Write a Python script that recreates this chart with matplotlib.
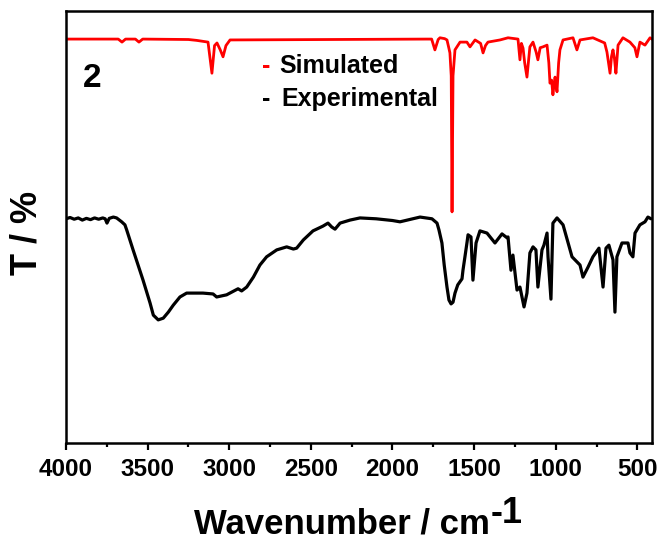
import matplotlib
matplotlib.use("Agg")
import matplotlib.pyplot as plt

# ---- data (wavenumber in cm^-1, transmittance in arbitrary % scale) ----
exp_wn = [4000, 3975, 3950, 3925, 3900, 3875, 3850, 3825, 3800, 3775, 3760, 3749, 3735, 3710, 3690,
          3659, 3639, 3628, 3589, 3528, 3485, 3465, 3435, 3404, 3373, 3343, 3302, 3261, 3161, 3099,
          3077, 3016, 2946, 2924, 2893, 2852, 2812, 2771, 2709, 2648, 2607, 2587, 2546, 2487, 2426,
          2395, 2372, 2352, 2321, 2260, 2199, 2100, 2000, 1954,
          1831, 1758, 1727, 1715, 1697, 1683, 1666, 1654, 1641, 1629, 1617, 1600, 1574, 1568, 1556, 1543, 1537,
          1519, 1507, 1488, 1464, 1421,
          1372, 1329, 1298, 1292, 1274, 1262, 1237, 1219, 1194, 1176, 1158, 1139, 1121, 1109, 1084,
          1072, 1053, 1047, 1029, 1017, 992, 955, 900, 851, 833, 802, 772, 735, 710, 692,
          674, 649, 637, 625, 594, 557, 545, 527, 514, 484, 453, 435, 416]
exp_T = [51.9, 52.2, 51.8, 52.1, 51.6, 52.0, 51.7, 52.1, 51.8, 52.1, 51.9, 50.9, 52.0, 52.3, 52.1,
         51.2, 50.5, 49.3, 44.7, 37.7, 32.4, 29.6, 28.5, 28.9, 30.3, 31.9, 33.8, 34.7, 34.7, 34.5,
         33.8, 34.3, 35.7, 35.2, 36.1, 38.4, 41.2, 43.1, 44.7, 45.4, 44.9, 45.1, 47.0, 49.1, 50.2,
         50.9, 50.0, 49.5, 50.9, 51.6, 52.1, 51.9, 51.5, 51.2,
         52.3, 51.9, 50.9, 49.3, 46.3, 41.2, 36.1, 33.1, 32.2, 32.6, 34.7, 36.6, 38.0, 40.0, 43.1, 46.5, 48.2,
         47.7, 37.7, 46.3, 49.1, 48.6,
         46.3, 48.4, 47.5, 47.7, 40.0, 43.5, 35.4, 36.1, 31.5, 34.7, 44.0, 45.4, 44.7, 36.1, 44.7,
         45.8, 48.6, 43.1, 33.3, 50.9, 52.1, 50.5, 43.1, 41.2, 38.4, 40.7, 43.1, 45.1, 36.1, 45.1,
         45.8, 42.4, 30.3, 43.1, 46.3, 46.3, 44.0, 43.1, 48.6, 50.5, 51.2, 52.3, 51.9]

sim_wn = [4000, 3680, 3657, 3635, 3575, 3553, 3530, 3250, 3200, 3130, 3106, 3090, 3075, 3055, 3038,
          3020, 2995, 1790, 1760, 1740, 1720, 1709, 1680, 1666, 1655, 1648, 1640, 1635, 1629, 1617,
          1586, 1544, 1525, 1494, 1460, 1445, 1430, 1415, 1341, 1292, 1231, 1219, 1210, 1200, 1190,
          1176, 1165, 1158, 1139, 1120, 1109, 1095, 1078, 1053, 1042, 1035, 1025, 1017, 1010, 1004,
          998, 992, 982, 974, 955, 894, 870, 851, 772, 700, 686, 667, 658, 649, 640,
          631, 618, 588, 545, 515, 502, 484, 453, 422, 410]
sim_T = [93.5, 93.5, 92.8, 93.5, 93.5, 92.8, 93.5, 93.4, 93.2, 92.8, 85.6, 92.0, 92.6, 91.0, 89.4,
         92.0, 93.3, 93.5, 93.5, 91.0, 93.4, 93.8, 93.6, 93.3, 91.5, 90.3, 85.0, 53.5, 85.0, 91.0,
         92.8, 92.8, 91.7, 93.3, 92.5, 90.3, 92.0, 92.8, 93.3, 93.8, 93.5, 88.7, 92.5, 91.4, 88.0,
         84.7, 89.0, 91.7, 92.8, 90.5, 88.7, 91.5, 91.7, 92.1, 88.0, 83.3, 84.0, 80.6, 83.0, 84.7,
         83.0, 81.3, 88.0, 91.0, 93.3, 93.8, 91.0, 93.3, 93.8, 92.6, 90.5, 85.6, 89.5, 91.0, 89.0,
         85.6, 92.1, 93.8, 92.8, 91.5, 89.4, 92.8, 92.1, 93.8, 93.5]

x_ticks = [4000, 3500, 3000, 2500, 2000, 1500, 1000, 500]
x_minor = [3750, 3250, 2750, 2250, 1750, 1250, 750]

plt.rcParams['font.family'] = ['Liberation Sans', 'DejaVu Sans']
plt.rcParams['font.weight'] = 'bold'

W, H = 660, 542
fig = plt.figure(figsize=(W / 100, H / 100), dpi=100)
ax = fig.add_axes([66 / W, 1 - 443 / H, (652 - 66) / W, (443 - 11) / H])

ax.plot(exp_wn, exp_T, color='black', lw=2.3, solid_joinstyle='round', solid_capstyle='round')
ax.plot(sim_wn, sim_T, color='red', lw=2.0, solid_joinstyle='round')

ax.set_xlim(4000, 410)
ax.set_ylim(0, 100)
ax.set_xticks(x_ticks)
ax.set_xticks(x_minor, minor=True)
ax.set_xticklabels([str(t) for t in x_ticks], fontsize=17.5, fontweight='bold')
ax.set_yticks([])
ax.tick_params(axis='x', which='major', direction='out', length=5, width=1.6, pad=6)
ax.tick_params(axis='x', which='minor', direction='out', length=3, width=1.6)
for s in ax.spines.values():
    s.set_linewidth(1.8)

# axis labels
fig.text(490 / W, 1 - 534 / H, 'Wavenumber / cm', ha='right', va='baseline',
         fontsize=25, fontweight='bold')
fig.text(491 / W, 1 - 523 / H, '-1', ha='left', va='baseline',
         fontsize=26, fontweight='bold')
fig.text(27 / W, 1 - 233 / H, 'T / %', ha='center', va='center', rotation=90,
         fontsize=26, fontweight='bold')

# panel label and legend-like text
fig.text(83 / W, 1 - 87 / H, '2', ha='left', va='baseline', fontsize=24, fontweight='bold')
fig.text(262 / W, 1 - 73 / H, '-', color='red', ha='left', va='baseline', fontsize=18, fontweight='bold')
fig.text(279 / W, 1 - 73 / H, 'Simulated', color='black', ha='left', va='baseline', fontsize=18, fontweight='bold')
fig.text(262 / W, 1 - 106 / H, '-', color='black', ha='left', va='baseline', fontsize=18, fontweight='bold')
fig.text(281 / W, 1 - 106 / H, 'Experimental', color='black', ha='left', va='baseline', fontsize=18, fontweight='bold')

fig.savefig('out.png', dpi=100)
